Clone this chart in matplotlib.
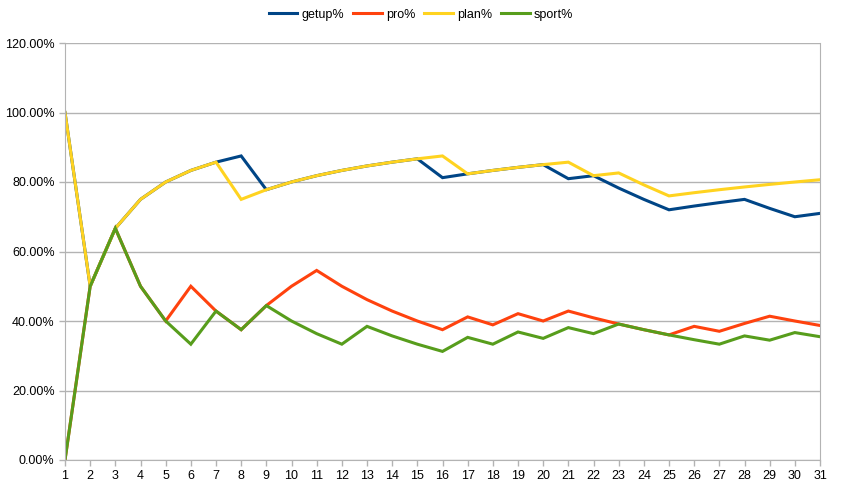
import matplotlib
matplotlib.use("Agg")
import matplotlib.pyplot as plt
from matplotlib.ticker import FuncFormatter, FixedLocator

days = list(range(1, 32))
getup = [100, 50, 66.67, 75, 80, 83.33, 85.71, 87.5, 77.78, 80, 81.82, 83.33, 84.62, 85.71, 86.67,
         81.25, 82.35, 83.33, 84.21, 85, 80.95, 81.82, 78.26, 75, 72, 73.08, 74.07, 75, 72.41, 70, 70.97]
pro = [0, 50, 66.67, 50, 40, 50, 42.86, 37.5, 44.44, 50, 54.55, 50, 46.15, 42.86, 40,
       37.5, 41.18, 38.89, 42.11, 40, 42.86, 40.91, 39.13, 37.5, 36, 38.46, 37.04, 39.29, 41.38, 40, 38.71]
plan = [100, 50, 66.67, 75, 80, 83.33, 85.71, 75, 77.78, 80, 81.82, 83.33, 84.62, 85.71, 86.67,
        87.5, 82.35, 83.33, 84.21, 85, 85.71, 81.82, 82.61, 79.17, 76, 76.92, 77.78, 78.57, 79.31, 80, 80.65]
sport = [0, 50, 66.67, 50, 40, 33.33, 42.86, 37.5, 44.44, 40, 36.36, 33.33, 38.46, 35.71, 33.33,
         31.25, 35.29, 33.33, 36.84, 35, 38.1, 36.36, 39.13, 37.5, 36, 34.62, 33.33, 35.71, 34.48, 36.67, 35.48]

series = [("getup%", getup, "#004586"), ("pro%", pro, "#ff420e"),
          ("plan%", plan, "#ffd320"), ("sport%", sport, "#579d1c")]

plt.rcParams['font.family'] = ['Liberation Sans', 'DejaVu Sans']
fig = plt.figure(figsize=(8.42, 4.91), dpi=100)
ax = fig.add_axes([65/842, 31/491, 755/842, 417/491])

for name, vals, col in series:
    ax.plot(days, vals, color=col, lw=2.2, label=name, solid_joinstyle='miter')

ax.set_xlim(1, 31)
ax.set_ylim(0, 120)
ax.yaxis.set_major_locator(FixedLocator([0, 20, 40, 60, 80, 100, 120]))
ax.yaxis.set_major_formatter(FuncFormatter(lambda v, p: f"{v:.2f}%"))
ax.set_xticks(days)
ax.grid(axis='y', color='#b3b3b3', lw=1)
ax.set_axisbelow(True)
for s in ['left', 'bottom', 'right', 'top']:
    ax.spines[s].set_color('#b3b3b3')
ax.spines['top'].set_visible(False)
ax.tick_params(axis='both', colors='#b3b3b3', labelcolor='black', labelsize=9, length=4, width=1)

fig.legend(loc='upper center', bbox_to_anchor=(0.5, 1.005), ncol=4, frameon=False, fontsize=9,
           handlelength=2.3, columnspacing=0.75, handletextpad=0.3)

fig.savefig("out.png", dpi=100)
